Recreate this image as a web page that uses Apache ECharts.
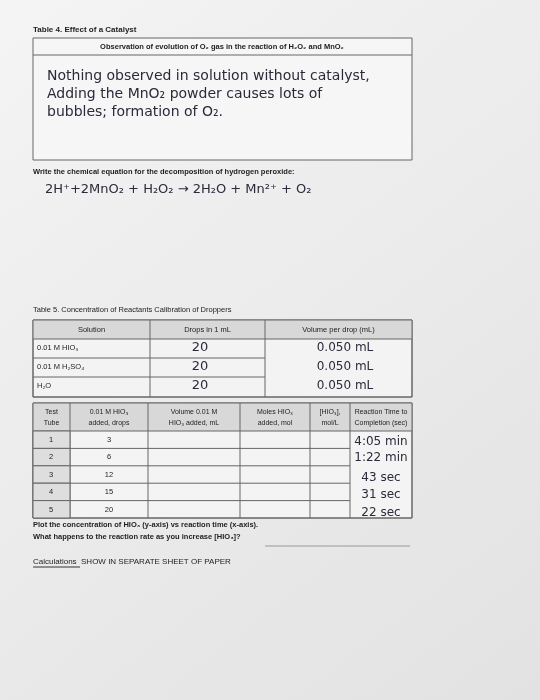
<!DOCTYPE html>
<html><head><meta charset="utf-8">
<script src="https://cdn.jsdelivr.net/npm/echarts@6/dist/echarts.min.js"></script>
<style>html,body{margin:0;padding:0;background:#e9e9e9}#c{width:540px;height:700px}</style>
</head><body><div id="c"></div>
<script>
var observationLines = ["Nothing observed in solution without catalyst,", "Adding the MnO\u2082 powder causes lots of", "bubbles; formation of O\u2082."];
var equationText = "2H\u207A+2MnO\u2082 + H\u2082O\u2082 \u2192 2H\u2082O + Mn\u00B2\u207A + O\u2082";
var t5Headers = ["Solution", "Drops in 1 mL", "Volume per drop (mL)"];
var t5Solutions = ["0.01 M HIO\u2083", "0.01 M H\u2082SO\u2084", "H\u2082O"];
var t5Drops = ["20", "20", "20"];
var t5Volumes = ["0.050 mL", "0.050 mL", "0.050 mL"];
var t6Headers = [["Test","Tube"],["0.01 M HIO\u2083","added, drops"],["Volume 0.01 M","HIO\u2083 added, mL"],["Moles HIO\u2083","added, mol"],["[HIO\u2083],","mol/L"],["Reaction Time to","Completion (sec)"]];
var t6Tubes = ["1","2","3","4","5"];
var t6Drops = ["3","6","12","15","20"];
var t6Times = ["4:05 min","1:22 min","43 sec","31 sec","22 sec"];

var g = [];
var F = "Liberation Sans, Arial, sans-serif";
var HAND = "DejaVu Sans, sans-serif";
var ink = "#2a2a3a";
function txt(x,y,s,o){o=o||{};g.push({type:'text',x:x,y:y,style:{text:s,fill:o.fill||'#222',font:(o.w||'normal')+' '+(o.s||8)+'px '+(o.f||F),textAlign:o.a||'left',textVerticalAlign:'middle'}});}
function ln(x1,y1,x2,y2,c,w){g.push({type:'line',shape:{x1:x1,y1:y1,x2:x2,y2:y2},style:{stroke:c||'#666',lineWidth:w||1}});}
function rect(x,y,w,h,f){g.push({type:'rect',shape:{x:x,y:y,width:w,height:h},style:{fill:f||'none',stroke:'#666',lineWidth:1}});}

// background
g.push({type:'rect',shape:{x:0,y:0,width:540,height:700},style:{fill:new echarts.graphic.LinearGradient(0,0,1,1,[{offset:0,color:'#f4f4f4'},{offset:1,color:'#e2e2e2'}])}});

// Table 4
txt(33,30,"Table 4. Effect of a Catalyst",{w:'bold',s:8});
rect(33,38,379,122,'#f6f6f6');
ln(33,55,412,55);
txt(222,47,"Observation of evolution of O\u2082 gas in the reaction of H\u2082O\u2082 and MnO\u2082",{w:'bold',s:7.5,a:'center'});
observationLines.forEach(function(s,i){txt(47,76+i*18,s,{s:14,f:HAND,fill:ink});});

txt(33,172,"Write the chemical equation for the decomposition of hydrogen peroxide:",{w:'bold',s:7.5});
txt(45,190,equationText,{s:13,f:HAND,fill:ink});

// Table 5
txt(33,310,"Table 5. Concentration of Reactants Calibration of Droppers",{s:7.5});
rect(33,320,379,77,'#f3f3f3');
g.push({type:'rect',shape:{x:33,y:320,width:379,height:19},style:{fill:'#d8d8d8'}});
rect(33,320,379,77);
var c5=[33,150,265,412];
ln(150,320,150,397);ln(265,320,265,397);
ln(33,339,412,339);ln(33,358,265,358);ln(33,377,265,377);
t5Headers.forEach(function(h,i){txt((c5[i]+c5[i+1])/2,330,h,{s:7.5,a:'center'});});
t5Solutions.forEach(function(s,i){var y=348+i*19;
 txt(37,y,s,{s:7.5});
 txt(200,y,t5Drops[i],{s:13,f:HAND,fill:ink,a:'center'});
 txt(345,y,t5Volumes[i],{s:12,f:HAND,fill:ink,a:'center'});});

// Table 6
var c6=[33,70,148,240,310,350,412];
rect(33,403,379,115,'#f4f4f4');
g.push({type:'rect',shape:{x:33,y:403,width:379,height:28},style:{fill:'#d8d8d8'}});
rect(33,403,379,115);
for(var i=1;i<c6.length-1;i++) ln(c6[i],403,c6[i],518);
ln(33,431,412,431);
for(var r=1;r<5;r++) ln(33,431+r*17.4,350,431+r*17.4);
t6Headers.forEach(function(h,i){var cx=(c6[i]+c6[i+1])/2;txt(cx,412,h[0],{s:7,a:'center'});txt(cx,423,h[1],{s:7,a:'center'});});
t6Tubes.forEach(function(t,i){var y=440+i*17.4;
 g.push({type:'rect',shape:{x:33,y:431+i*17.4,width:37,height:17.4},style:{fill:'#dedede',stroke:'#666',lineWidth:1}});
 txt(51,y,t,{s:7.5,a:'center'});
 txt(109,y,t6Drops[i],{s:7.5,a:'center'});
 txt(381,y+(i>1?3:0)-(i==0?-2:0),t6Times[i],{s:12,f:HAND,fill:ink,a:'center'});});

txt(33,525,"Plot the concentration of HIO\u2083 (y-axis) vs reaction time (x-axis).",{w:'bold',s:7.5});
txt(33,537,"What happens to the reaction rate as you increase [HIO\u2083]?",{w:'bold',s:7.5});
ln(265,546,410,546,'#999');
txt(33,562,"Calculations  SHOW IN SEPARATE SHEET OF PAPER",{s:8});
ln(33,567,80,567,'#333');

var ch = echarts.init(document.getElementById('c'));
ch.setOption({animation:false,graphic:{elements:g}});
</script></body></html>
